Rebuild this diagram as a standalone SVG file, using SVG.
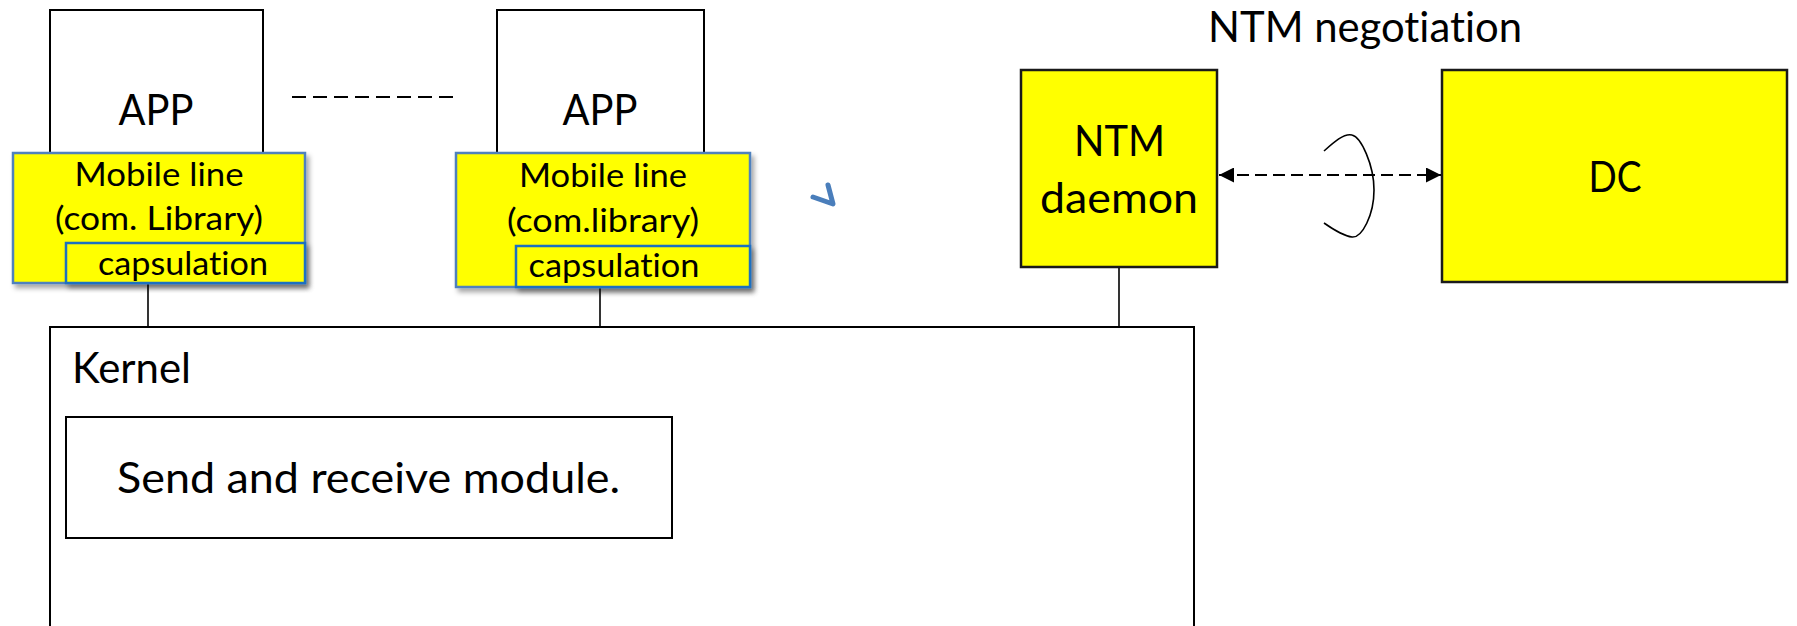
<svg xmlns="http://www.w3.org/2000/svg" width="1797" height="626" viewBox="0 0 1797 626">
  <style>
    .box { fill: #ffffff; stroke: #000000; stroke-width: 2; }
    .lib { fill: #ffff00; stroke: #4f81bd; stroke-width: 2.5; filter: url(#shadow); }
    .cap { fill: #ffff00; stroke: #1f6fc0; stroke-width: 2.5; filter: url(#shadow); }
    .ybox { fill: #ffff00; stroke: #1a1a1a; stroke-width: 2.5; }
    .link { stroke: #000000; stroke-width: 1.6; fill: none; }
    .dash { stroke: #000000; stroke-width: 2; fill: none; }
    text { font-family: Lato, "Open Sans", "Liberation Sans", sans-serif; fill: #000000; font-variant-ligatures: none; font-feature-settings: "liga" 0, "clig" 0; }
    .big { font-size: 42px; }
    .mid { font-size: 33px; }
  </style>
  <defs>
    <filter id="shadow" x="-10%" y="-10%" width="125%" height="135%">
      <feDropShadow dx="3" dy="4" stdDeviation="2.5" flood-color="#000000" flood-opacity="0.35"/>
    </filter>
    <marker id="tri-end" viewBox="0 0 10 10" refX="10" refY="5" markerWidth="15" markerHeight="15" markerUnits="userSpaceOnUse" orient="auto">
      <path d="M0,0 L10,5 L0,10 Z" fill="#000000"/>
    </marker>
    <marker id="tri-start" viewBox="0 0 10 10" refX="0" refY="5" markerWidth="15" markerHeight="15" markerUnits="userSpaceOnUse" orient="auto">
      <path d="M10,0 L0,5 L10,10 Z" fill="#000000"/>
    </marker>
  </defs>

  <rect width="1797" height="626" fill="#ffffff"/>

  <!-- connectors -->
  <g id="connectors">
    <line class="link" x1="148" y1="283" x2="148" y2="327"/>
    <line class="link" x1="600" y1="287" x2="600" y2="327"/>
    <line class="link" x1="1119" y1="267" x2="1119" y2="327"/>
    <line class="dash" x1="292" y1="97" x2="457" y2="97" stroke-dasharray="14 7"/>
    <line class="dash" x1="1219" y1="175" x2="1441" y2="175" stroke-dasharray="12 6" marker-start="url(#tri-start)" marker-end="url(#tri-end)"/>
    <path class="link" stroke-width="2" d="M1324,151 C1334,142 1344,133 1352,135 C1361,137 1374,165 1374,190 C1374,215 1362,238 1352,237 C1344,236 1334,230 1324,223"/>
  </g>

  <!-- kernel -->
  <g id="kernel">
    <rect class="box" x="50" y="327" width="1144" height="320"/>
    <text class="big" x="72" y="383" textLength="119" lengthAdjust="spacingAndGlyphs">Kernel</text>
  </g>
  <g id="send-receive">
    <rect class="box" x="66" y="417" width="606" height="121" stroke-width="1.8"/>
    <text class="big" x="117" y="493" textLength="503" lengthAdjust="spacingAndGlyphs">Send and receive module.</text>
  </g>

  <!-- first application -->
  <g id="app1">
    <rect class="box" x="50" y="10" width="213" height="150"/>
    <text class="big" x="156" y="125" text-anchor="middle" textLength="75" lengthAdjust="spacingAndGlyphs">APP</text>
  </g>
  <g id="lib1">
    <rect class="lib" x="13" y="153" width="292" height="130"/>
    <text class="mid" x="159" y="186" text-anchor="middle" textLength="169" lengthAdjust="spacingAndGlyphs">Mobile line</text>
    <text class="mid" x="159" y="230" text-anchor="middle" textLength="208" lengthAdjust="spacingAndGlyphs">(com. Library)</text>
  </g>
  <g id="cap1">
    <rect class="cap" x="66" y="243" width="239" height="40"/>
    <text class="mid" x="183" y="275" text-anchor="middle" textLength="170" lengthAdjust="spacingAndGlyphs">capsulation</text>
  </g>

  <!-- second application -->
  <g id="app2">
    <rect class="box" x="497" y="10" width="207" height="150"/>
    <text class="big" x="600" y="125" text-anchor="middle" textLength="75" lengthAdjust="spacingAndGlyphs">APP</text>
  </g>
  <g id="lib2">
    <rect class="lib" x="456" y="153" width="294" height="134"/>
    <text class="mid" x="603" y="187" text-anchor="middle" textLength="168" lengthAdjust="spacingAndGlyphs">Mobile line</text>
    <text class="mid" x="603" y="232" text-anchor="middle" textLength="192" lengthAdjust="spacingAndGlyphs">(com.library)</text>
  </g>
  <g id="cap2">
    <rect class="cap" x="516" y="246" width="234" height="41"/>
    <text class="mid" x="614" y="277" text-anchor="middle" textLength="171" lengthAdjust="spacingAndGlyphs">capsulation</text>
  </g>

  <!-- small blue tick -->
  <path d="M813,197 L833,204 L828,185" fill="none" stroke="#4a7ebb" stroke-width="5" stroke-linecap="round" stroke-linejoin="round"/>

  <!-- negotiation side -->
  <g id="ntm-label">
    <text class="big" x="1365" y="42" text-anchor="middle" textLength="314" lengthAdjust="spacingAndGlyphs">NTM negotiation</text>
  </g>
  <g id="ntm-daemon">
    <rect class="ybox" x="1021" y="70" width="196" height="197"/>
    <text class="big" x="1119.5" y="156" text-anchor="middle" textLength="91" lengthAdjust="spacingAndGlyphs">NTM</text>
    <text class="big" x="1119" y="213" text-anchor="middle" textLength="158" lengthAdjust="spacingAndGlyphs">daemon</text>
  </g>
  <g id="dc">
    <rect class="ybox" x="1442" y="70" width="345" height="212"/>
    <text class="big" x="1615" y="192" text-anchor="middle" textLength="53" lengthAdjust="spacingAndGlyphs">DC</text>
  </g>
</svg>
